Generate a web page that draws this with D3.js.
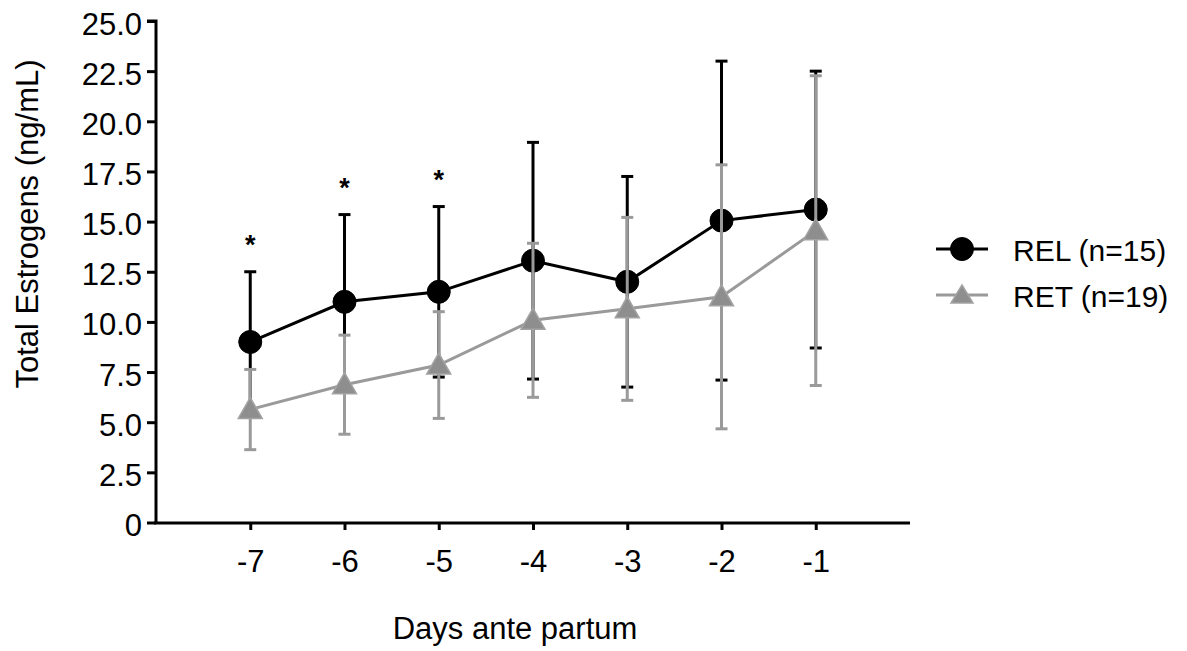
<!DOCTYPE html>
<html>
<head>
<meta charset="utf-8">
<script src="https://cdn.jsdelivr.net/npm/d3@7"></script>
<style>
  body { margin: 0; background: #fff; }
  text { font-family: "Liberation Sans", Arial, Helvetica, sans-serif; }
</style>
</head>
<body>
<svg id="chart"></svg>
<script>
// data
var days = [-7, -6, -5, -4, -3, -2, -1];
var relMean = [9.0, 11.0, 11.5, 13.05, 12.0, 15.05, 15.6];
var relSd = [3.5, 4.35, 4.25, 5.9, 5.25, 7.95, 6.9];
var retMean = [5.63, 6.87, 7.85, 10.08, 10.65, 11.25, 14.55];
var retSd = [2.0, 2.47, 2.66, 3.84, 4.56, 6.58, 7.72];
var starDays = [-7, -6, -5];
var yTicks = [0, 2.5, 5, 7.5, 10, 12.5, 15, 17.5, 20, 22.5, 25];
var seriesNames = ["REL (n=15)", "RET (n=19)"];

var svgWidth = 1187;
var svgHeight = 651;

var svg = d3.select("#chart")
  .attr("width", svgWidth)
  .attr("height", svgHeight);

var x = d3.scaleLinear().domain([-8, 0]).range([156, 910]);
var y = d3.scaleLinear().domain([0, 25]).range([522.5, 21]);

var black = "#000";
var grey = "#9a9a9a";
var greyFill = "#8e8e8e";

// y axis
var yAxis = svg.append("g")
  .attr("transform", "translate(156,0)")
  .call(d3.axisLeft(y).tickValues(yTicks).tickSize(9).tickPadding(5)
    .tickFormat(function(d) { return d === 0 ? "0" : d.toFixed(1); }));
yAxis.select(".domain").attr("stroke-width", 3).attr("d", "M-9,21H0V523");
yAxis.selectAll(".tick line").attr("stroke-width", 3);
yAxis.selectAll(".tick text").attr("font-size", 31).attr("dy", "0.42em").attr("fill", "#000");

// x axis
var xAxis = svg.append("g")
  .attr("transform", "translate(0,523)")
  .call(d3.axisBottom(x).tickValues(days).tickSize(7).tickPadding(20)
    .tickFormat(function(d) { return d; }));
xAxis.select(".domain").attr("stroke-width", 3).attr("d", "M154,0H910");
xAxis.selectAll(".tick line").attr("stroke-width", 3);
xAxis.selectAll(".tick text").attr("font-size", 31).attr("fill", "#000");

// axis titles
svg.append("text")
  .attr("transform", "translate(38,224) rotate(-90)")
  .attr("text-anchor", "middle")
  .attr("font-size", 31)
  .text("Total Estrogens (ng/mL)");

svg.append("text")
  .attr("x", 515).attr("y", 639)
  .attr("text-anchor", "middle")
  .attr("font-size", 31)
  .text("Days ante partum");

function drawSeries(mean, sd, color, lineW, marker) {
  var g = svg.append("g");
  var pts = days.map(function(d, i) { return {day: d, m: mean[i], s: sd[i]}; });

  // error bars
  pts.forEach(function(p) {
    var cx = x(p.day);
    g.append("line")
      .attr("x1", cx).attr("x2", cx)
      .attr("y1", y(p.m + p.s)).attr("y2", y(p.m - p.s))
      .attr("stroke", color).attr("stroke-width", lineW);
    [p.m + p.s, p.m - p.s].forEach(function(v) {
      g.append("line")
        .attr("x1", cx - 6).attr("x2", cx + 6)
        .attr("y1", y(v)).attr("y2", y(v))
        .attr("stroke", color).attr("stroke-width", 3);
    });
  });

  // connecting line
  g.append("path")
    .datum(pts)
    .attr("fill", "none")
    .attr("stroke", color)
    .attr("stroke-width", 3)
    .attr("d", d3.line().x(function(p) { return x(p.day); }).y(function(p) { return y(p.m); }));

  // markers
  g.selectAll(".mk")
    .data(pts)
    .enter()
    .append("path")
    .attr("transform", function(p) { return "translate(" + x(p.day) + "," + y(p.m) + ")"; })
    .attr("d", marker.d)
    .attr("fill", marker.fill)
    .attr("stroke", marker.stroke)
    .attr("stroke-width", marker.sw);
}

var circleMk = { d: d3.symbol().type(d3.symbolCircle).size(Math.PI * 11.5 * 11.5)(), fill: black, stroke: black, sw: 1 };
var triMk = { d: "M0,-12L12,9L-12,9Z", fill: greyFill, stroke: "#a3a3a3", sw: 1.5 };

drawSeries(relMean, relSd, black, 3, circleMk);
drawSeries(retMean, retSd, grey, 3, triMk);

// significance stars
svg.selectAll(".star")
  .data(starDays)
  .enter()
  .append("text")
  .attr("x", function(d) { return x(d); })
  .attr("y", function(d) {
    var i = days.indexOf(d);
    return y(relMean[i] + relSd[i]) - 18;
  })
  .attr("text-anchor", "middle")
  .attr("font-size", 27)
  .attr("font-weight", "bold")
  .text("*");

// legend
var legend = svg.append("g");
var legRows = [
  { y: 249, color: black, mk: circleMk, w: 3 },
  { y: 295, color: grey, mk: { d: "M0,-10L11,8L-11,8Z", fill: greyFill, stroke: "#a3a3a3", sw: 1.5 }, w: 3 }
];
legRows.forEach(function(r, i) {
  legend.append("line")
    .attr("x1", 936).attr("x2", 988)
    .attr("y1", r.y).attr("y2", r.y)
    .attr("stroke", r.color).attr("stroke-width", r.w);
  legend.append("path")
    .attr("transform", "translate(962," + r.y + ")")
    .attr("d", r.mk.d)
    .attr("fill", r.mk.fill)
    .attr("stroke", r.mk.stroke)
    .attr("stroke-width", r.mk.sw);
  legend.append("text")
    .attr("x", 1013).attr("y", r.y + 12)
    .attr("font-size", 30)
    .text(seriesNames[i]);
});
</script>
</body>
</html>
